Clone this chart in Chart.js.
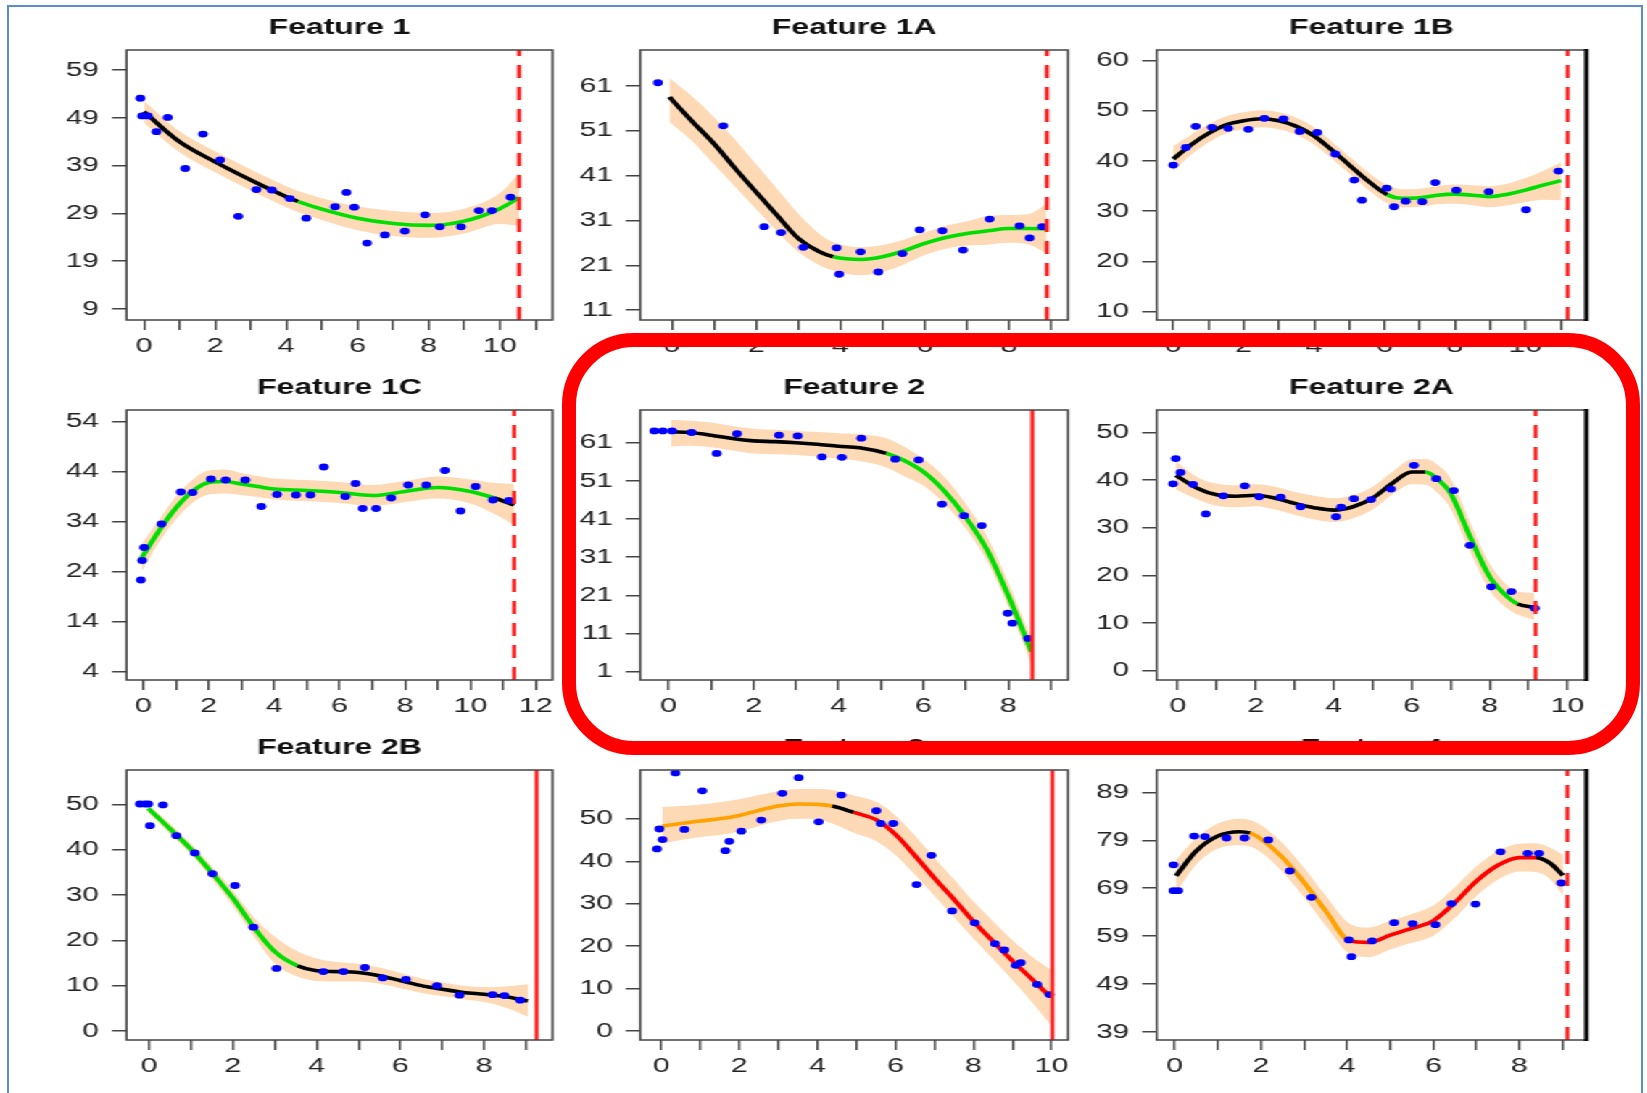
<!DOCTYPE html>
<html lang="fr">
<head>
<meta charset="utf-8">
<title>Features</title>
<script src="https://cdn.jsdelivr.net/npm/chart.js@4.4.1/dist/chart.umd.min.js"></script>
<style>
  body { margin: 0; background: #fff; }
  #page { position: relative; width: 1647px; height: 1093px; overflow: hidden; background: #fff; }
  /* la figure d'origine est etiree horizontalement */
  #etire { position: absolute; left: 0; top: 0; width: 1136px; height: 1093px; transform: scaleX(1.45); transform-origin: 0 0; }
  #etire canvas { position: absolute; }
  #cadreBleu { position: absolute; left: 7px; top: 5px; width: 1636px; height: 1120px; border: 2px solid #5b8bd1; box-sizing: border-box; }
  #surlignage { position: absolute; left: 562px; top: 333px; width: 1078px; height: 422px; border: 14px solid #ff0000; border-radius: 72px; box-sizing: border-box; pointer-events: none; }
</style>
</head>
<body>
<div id="page">
  <div id="cadreBleu"></div>
  <div id="etire"></div>
  <div id="surlignage"></div>
</div>
<script>
const ETIREMENT = 1.45;
const POLICE = "'Liberation Sans', Arial, sans-serif";
const NOIR = '#000000', VERT = '#00dd00', ORANGE = '#ffa200', ROUGE = '#ff0000';
const BANDE = '#fdd9b5';

// Feature 1
const f1X = [0, 1, 2, 3, 4, 4.33, 5, 6, 7, 8, 9, 10, 10.54];
const f1Courbe = [50.3, 44.0, 39.8, 36.0, 32.5, 31.5, 29.9, 28.0, 26.9, 26.5, 27.4, 30.0, 32.3];
const f1Bas = [48.0, 41.8, 37.6, 33.8, 30.3, 29.3, 27.6, 25.5, 24.3, 23.9, 24.8, 26.8, 26.4];
const f1Haut = [52.6, 46.2, 42.0, 38.2, 34.7, 33.7, 32.2, 30.5, 29.5, 29.1, 30.0, 33.2, 37.4];
const f1PtsX = [-0.10, -0.05, 0.11, 0.35, 0.67, 1.16, 1.66, 2.14, 2.65, 3.16, 3.59, 4.10, 4.56, 5.37, 5.69, 5.91, 6.27, 6.77, 7.33, 7.90, 8.31, 8.91, 9.41, 9.78, 10.30];
const f1PtsY = [53.1, 49.4, 49.4, 46.1, 49.1, 38.4, 45.6, 40.2, 28.4, 34.0, 33.9, 32.1, 28.0, 30.4, 33.4, 30.3, 22.8, 24.5, 25.3, 28.7, 26.2, 26.2, 29.6, 29.6, 32.4];
const f1Seuils = [4.33], f1Teintes = [NOIR, VERT];
const f1XTicks = [0, 1, 2, 3, 4, 5, 6, 7, 8, 9, 10, 11];
const f1YTicks = [9, 19, 29, 39, 49, 59];
const f1Axes = [-0.49, 11.48, 6.7, 63.2];

// Feature 1A
const f2X = [-0.06, 0.5, 1, 1.5, 2, 2.5, 3, 3.5, 3.83, 4.5, 5, 5.5, 6, 6.5, 7, 7.5, 8, 8.5, 8.89];
const f2Courbe = [58.5, 52.9, 48.1, 42.6, 37.3, 32.1, 27.0, 24.0, 22.9, 22.3, 22.9, 24.2, 25.9, 27.2, 28.1, 28.7, 29.2, 29.2, 29.1];
const f2Bas = [53.0, 48.5, 43.5, 38.5, 33.5, 28.5, 24.0, 21.0, 19.8, 18.8, 19.5, 21.2, 23.3, 24.7, 25.4, 25.6, 26.0, 25.5, 23.7];
const f2Haut = [62.7, 58.5, 54.0, 49.0, 43.5, 38.0, 32.5, 28.0, 26.2, 25.0, 25.5, 26.7, 28.3, 29.8, 30.8, 32.0, 32.2, 32.5, 34.7];
const f2PtsX = [-0.33, 1.22, 2.19, 2.59, 3.12, 3.91, 3.97, 4.48, 4.90, 5.47, 5.88, 6.42, 6.91, 7.54, 8.25, 8.49, 8.79];
const f2PtsY = [61.7, 52.1, 29.6, 28.3, 25.0, 24.9, 19.0, 24.0, 19.5, 23.6, 28.9, 28.7, 24.4, 31.3, 29.8, 27.1, 29.6];
const f2Seuils = [3.83], f2Teintes = [NOIR, VERT];
const f2XTicks = [0, 1, 2, 3, 4, 5, 6, 7, 8, 9];
const f2YTicks = [11, 21, 31, 41, 51, 61];
const f2Axes = [-0.75, 9.4, 8.8, 69.0];

// Feature 1B
const f3X = [0, 0.5, 1, 1.5, 2, 2.5, 3, 3.5, 4, 4.5, 5, 5.5, 6.08, 6.5, 7, 7.5, 8, 8.5, 9, 9.5, 10, 10.5, 11.02];
const f3Courbe = [40.4, 43.2, 45.5, 47.2, 48.0, 48.4, 48.0, 46.9, 45.0, 42.2, 39.2, 36.2, 33.3, 32.6, 32.7, 33.2, 33.4, 33.2, 32.9, 33.4, 34.2, 35.2, 36.1];
const f3Bas = [38.0, 41.2, 43.7, 45.5, 46.3, 46.7, 46.3, 45.2, 43.3, 40.5, 37.5, 34.5, 31.6, 30.8, 30.9, 31.4, 31.5, 31.2, 30.8, 31.2, 31.8, 32.3, 32.2];
const f3Haut = [43.0, 45.2, 47.3, 48.9, 49.7, 50.1, 49.7, 48.6, 46.7, 43.9, 40.9, 37.9, 35.2, 34.4, 34.5, 35.0, 35.3, 35.2, 35.0, 35.5, 36.6, 38.0, 39.8];
const f3PtsX = [0, 0.36, 0.64, 1.10, 1.56, 2.13, 2.59, 3.13, 3.59, 4.09, 4.60, 5.14, 5.36, 6.06, 6.27, 6.60, 7.07, 7.44, 8.04, 8.96, 10.02, 10.94];
const f3PtsY = [39.2, 42.7, 46.9, 46.7, 46.5, 46.3, 48.5, 48.4, 45.9, 45.7, 41.4, 36.2, 32.2, 34.6, 30.9, 32.0, 31.9, 35.7, 34.2, 33.9, 30.3, 38.0];
const f3Seuils = [6.08], f3Teintes = [NOIR, VERT];
const f3XTicks = [0, 1, 2, 3, 4, 5, 6, 7, 8, 9, 10, 11];
const f3YTicks = [10, 20, 30, 40, 50, 60];
const f3Axes = [-0.47, 11.73, 8.35, 62.1];

// Feature 1C
const f4X = [-0.05, 0.5, 1, 1.5, 2, 2.5, 3, 3.5, 4, 5, 6, 7, 8, 9, 10, 10.73, 11.34];
const f4Courbe = [26.7, 32.3, 36.7, 40.0, 41.8, 42.0, 41.5, 41.0, 40.5, 40.2, 39.8, 39.2, 40.0, 40.8, 40.0, 38.7, 37.3];
const f4Bas = [24.0, 30.0, 34.4, 37.7, 39.4, 39.6, 39.3, 38.9, 38.4, 38.1, 37.7, 37.1, 37.9, 38.6, 37.6, 35.5, 33.3];
const f4Haut = [29.5, 34.5, 39.0, 42.3, 44.2, 44.4, 43.7, 43.1, 42.6, 42.3, 41.9, 41.3, 42.1, 43.0, 42.4, 41.7, 41.5];
const f4PtsX = [-0.07, -0.03, 0.03, 0.56, 1.15, 1.51, 2.07, 2.52, 3.12, 3.61, 4.09, 4.67, 5.11, 5.52, 6.18, 6.49, 6.71, 7.12, 7.58, 8.10, 8.65, 9.22, 9.70, 10.16, 10.69, 11.18];
const f4PtsY = [22.3, 26.2, 28.8, 33.5, 39.9, 39.8, 42.5, 42.3, 42.3, 37.0, 39.4, 39.3, 39.3, 44.9, 39.0, 41.6, 36.6, 36.6, 38.7, 41.3, 41.3, 44.2, 36.1, 41.0, 38.3, 38.2];
const f4Seuils = [10.73], f4Teintes = [VERT, NOIR];
const f4XTicks = [0, 1, 2, 3, 4, 5, 6, 7, 8, 9, 10, 11, 12];
const f4YTicks = [4, 14, 24, 34, 44, 54];
const f4Axes = [-0.51, 12.51, 2.3, 56.3];

// Feature 2
const f5X = [0.06, 0.5, 1, 1.5, 2, 2.5, 3, 3.5, 4, 4.5, 5.13, 5.5, 6, 6.5, 7, 7.5, 8, 8.55];
const f5Courbe = [63.9, 63.7, 63.0, 62.1, 61.5, 61.3, 61.0, 60.6, 60.1, 59.7, 58.2, 56.6, 53.4, 48.3, 41.5, 33.0, 21.0, 6.2];
const f5Bas = [60.0, 60.2, 59.8, 59.0, 58.2, 58.0, 57.8, 57.4, 56.8, 56.2, 54.5, 52.5, 49.8, 45.0, 38.5, 30.0, 18.0, 3.0];
const f5Haut = [67.0, 66.8, 66.3, 65.4, 64.7, 64.4, 64.1, 63.8, 63.5, 63.3, 62.2, 60.3, 56.8, 52.0, 45.0, 36.5, 24.5, 9.5];
const f5PtsX = [-0.34, -0.14, 0.08, 0.54, 1.13, 1.61, 2.60, 3.04, 3.61, 4.08, 4.54, 5.34, 5.89, 6.44, 6.96, 7.38, 7.99, 8.10, 8.47];
const f5PtsY = [64.1, 64.1, 64.1, 63.7, 58.2, 63.4, 63.0, 62.8, 57.3, 57.2, 62.2, 56.7, 56.5, 44.9, 41.9, 39.3, 16.3, 13.7, 9.7];
const f5Seuils = [5.13], f5Teintes = [NOIR, VERT];
const f5XTicks = [0, 1, 2, 3, 4, 5, 6, 7, 8, 9];
const f5YTicks = [1, 11, 21, 31, 41, 51, 61];
const f5Axes = [-0.67, 9.41, -1.2, 69.6];

// Feature 2A
const f6X = [-0.05, 0.5, 1, 1.5, 2, 2.5, 3, 3.5, 4, 4.5, 5, 5.5, 6, 6.35, 6.7, 7, 7.5, 8, 8.5, 8.72, 9.14];
const f6Courbe = [41.0, 38.3, 36.9, 36.6, 36.8, 36.2, 35.1, 34.2, 33.7, 34.4, 36.2, 39.3, 41.7, 41.7, 40.0, 37.2, 28.1, 19.7, 15.2, 14.0, 13.3];
const f6Bas = [38.0, 36.0, 34.6, 34.3, 34.5, 33.8, 32.7, 31.7, 31.2, 32.0, 33.8, 36.9, 39.1, 39.0, 37.0, 34.0, 25.0, 16.9, 12.8, 11.8, 10.6];
const f6Haut = [44.0, 40.6, 39.2, 38.9, 39.1, 38.6, 37.5, 36.7, 36.2, 36.8, 38.6, 41.7, 44.3, 44.4, 43.0, 40.4, 31.2, 22.5, 17.6, 16.6, 16.3];
const f6PtsX = [-0.12, -0.05, 0.07, 0.39, 0.72, 1.17, 1.72, 2.09, 2.64, 3.15, 4.06, 4.19, 4.52, 4.96, 5.47, 6.06, 6.63, 7.08, 7.49, 8.04, 8.56, 9.16];
const f6PtsY = [39.2, 44.5, 41.6, 39.1, 32.9, 36.7, 38.8, 36.5, 36.4, 34.4, 32.3, 34.3, 36.1, 35.9, 38.1, 43.1, 40.3, 37.8, 26.3, 17.6, 16.6, 13.1];
const f6Seuils = [6.35, 8.72], f6Teintes = [NOIR, VERT, NOIR];
const f6XTicks = [0, 1, 2, 3, 4, 5, 6, 7, 8, 9, 10];
const f6YTicks = [0, 10, 20, 30, 40, 50];
const f6Axes = [-0.54, 10.48, -1.95, 54.7];

// Feature 2B
const f7X = [-0.02, 0.5, 1, 1.5, 2, 2.5, 3, 3.54, 4, 4.5, 5, 5.5, 6, 6.5, 7, 7.5, 8, 8.5, 9.04];
const f7Courbe = [49.1, 44.6, 40.1, 34.9, 29.3, 22.9, 17.5, 14.4, 13.3, 13.1, 12.9, 12.2, 11.1, 10.0, 9.2, 8.5, 8.1, 7.6, 6.6];
const f7Bas = [48.2, 43.4, 38.9, 33.5, 27.6, 20.9, 14.9, 12.0, 11.0, 10.9, 10.9, 10.4, 9.4, 8.4, 7.7, 7.0, 6.4, 5.2, 3.2];
const f7Haut = [50.0, 45.8, 41.3, 36.3, 31.0, 25.1, 20.8, 17.6, 16.0, 15.2, 14.8, 14.0, 12.8, 11.6, 10.7, 10.0, 9.7, 9.8, 10.3];
const f7PtsX = [-0.22, -0.10, -0.02, 0.02, 0.33, 0.65, 1.09, 1.51, 2.05, 2.49, 3.04, 4.16, 4.64, 5.15, 5.58, 6.13, 6.87, 7.41, 8.20, 8.48, 8.86];
const f7PtsY = [50.1, 50.1, 50.1, 45.3, 49.9, 43.1, 39.3, 34.7, 32.1, 22.9, 13.8, 13.1, 13.1, 14.0, 11.7, 11.4, 10.0, 7.9, 8.0, 7.8, 6.8];
const f7Seuils = [3.54], f7Teintes = [VERT, NOIR];
const f7XTicks = [0, 1, 2, 3, 4, 5, 6, 7, 8, 9];
const f7YTicks = [0, 10, 20, 30, 40, 50];
const f7Axes = [-0.54, 9.63, -2.0, 57.6];

// Feature 3
const f8X = [0.02, 0.5, 1, 1.5, 2, 2.5, 3, 3.5, 4, 4.38, 4.93, 5.5, 6, 6.5, 7, 7.5, 8, 8.5, 9, 9.5, 9.97];
const f8Courbe = [48.3, 48.9, 49.5, 50.0, 50.8, 52.0, 53.0, 53.5, 53.4, 53.0, 51.5, 49.8, 46.3, 41.3, 36.0, 31.0, 25.8, 21.1, 16.5, 12.2, 8.0];
const f8Bas = [44.2, 45.0, 45.7, 46.2, 47.0, 48.3, 49.5, 50.0, 49.8, 48.9, 46.7, 44.8, 41.5, 36.8, 31.8, 26.8, 21.8, 16.9, 12.0, 6.8, 1.5];
const f8Haut = [52.8, 53.0, 53.4, 53.9, 54.6, 55.6, 56.5, 57.0, 57.0, 56.8, 55.5, 54.0, 50.8, 46.0, 40.8, 35.7, 30.5, 25.9, 21.4, 17.5, 14.5];
const f8PtsX = [-0.11, -0.05, 0.03, 0.36, 0.59, 1.05, 1.64, 1.74, 2.05, 2.56, 3.10, 3.52, 4.03, 4.61, 5.51, 5.62, 5.94, 6.54, 6.92, 7.45, 8.03, 8.55, 8.79, 9.08, 9.21, 9.63, 9.95];
const f8PtsY = [42.9, 47.6, 45.1, 60.8, 47.5, 56.6, 42.5, 44.7, 47.1, 49.7, 56.0, 59.7, 49.3, 55.6, 51.9, 48.9, 48.9, 34.5, 41.4, 28.3, 25.5, 20.6, 19.1, 15.5, 16.1, 11.0, 8.6];
const f8Seuils = [4.38, 4.93], f8Teintes = [ORANGE, NOIR, ROUGE];
const f8XTicks = [0, 1, 2, 3, 4, 5, 6, 7, 8, 9, 10];
const f8YTicks = [0, 10, 20, 30, 40, 50];
const f8Axes = [-0.54, 10.42, -2.1, 61.5];

// Feature 4
const f9X = [0.03, 0.5, 1, 1.5, 1.75, 2, 2.5, 3, 3.5, 4.06, 4.5, 5, 5.5, 6, 6.5, 7, 7.5, 8, 8.38, 8.7, 9.01];
const f9Courbe = [71.6, 76.8, 79.9, 80.8, 80.5, 79.3, 75.4, 70.2, 64.3, 58.0, 57.7, 59.2, 60.6, 62.2, 66.0, 70.5, 73.8, 75.4, 75.4, 74.3, 71.7];
const f9Bas = [68.0, 74.0, 77.3, 78.0, 77.7, 76.5, 72.4, 67.1, 61.2, 55.3, 54.6, 56.2, 57.6, 59.1, 62.8, 67.4, 70.8, 72.5, 72.4, 71.0, 67.5];
const f9Haut = [75.0, 79.5, 82.5, 83.5, 83.2, 82.2, 78.4, 73.3, 67.5, 61.6, 60.8, 62.2, 63.6, 65.4, 69.2, 73.6, 76.8, 78.3, 78.4, 77.5, 76.0];
const f9PtsX = [-0.03, -0.03, 0.08, 0.45, 0.70, 1.20, 1.62, 2.17, 2.67, 3.17, 4.04, 4.10, 4.58, 5.09, 5.52, 6.05, 6.42, 6.98, 7.56, 8.19, 8.45, 8.97];
const f9PtsY = [73.9, 68.5, 68.5, 79.9, 79.8, 79.5, 79.5, 79.1, 72.6, 67.1, 58.2, 54.7, 58.0, 61.8, 61.6, 61.4, 65.8, 65.7, 76.6, 76.3, 76.3, 70.1];
const f9Seuils = [1.75, 4.06, 8.38], f9Teintes = [NOIR, ORANGE, ROUGE, NOIR];
const f9XTicks = [0, 1, 2, 3, 4, 5, 6, 7, 8, 9];
const f9YTicks = [39, 49, 59, 69, 79, 89];
const f9Axes = [-0.42, 9.55, 37.3, 93.7];

// position verticale de la limite (rouge) de chaque panneau
const limites = [10.54, 8.9, 11.2, 11.34, 8.57, 9.18, 9.25, 10.02, 9.11];
const pointilles = [true, true, true, true, false, true, false, false, true];
const titres = ['Feature 1', 'Feature 1A', 'Feature 1B', 'Feature 1C', 'Feature 2', 'Feature 2A', 'Feature 2B', 'Feature 3', 'Feature 4'];

// zone de tracé de chaque panneau, en pixels de la page : gauche, haut, droite, bas
const cadres = [
  [126.5, 50, 552.5, 320], [640.3, 50, 1068, 320], [1156.7, 50, 1586.3, 320],
  [126.5, 410, 552.5, 680], [640.3, 410, 1068, 680], [1156.7, 410, 1586.3, 680],
  [126.5, 769.5, 552.5, 1039], [640.3, 769.5, 1068, 1039], [1156.7, 769.5, 1586.3, 1039]
];

const panneaux = [
  [f1X, f1Courbe, f1Bas, f1Haut, f1PtsX, f1PtsY, f1Seuils, f1Teintes, f1XTicks, f1YTicks, f1Axes],
  [f2X, f2Courbe, f2Bas, f2Haut, f2PtsX, f2PtsY, f2Seuils, f2Teintes, f2XTicks, f2YTicks, f2Axes],
  [f3X, f3Courbe, f3Bas, f3Haut, f3PtsX, f3PtsY, f3Seuils, f3Teintes, f3XTicks, f3YTicks, f3Axes],
  [f4X, f4Courbe, f4Bas, f4Haut, f4PtsX, f4PtsY, f4Seuils, f4Teintes, f4XTicks, f4YTicks, f4Axes],
  [f5X, f5Courbe, f5Bas, f5Haut, f5PtsX, f5PtsY, f5Seuils, f5Teintes, f5XTicks, f5YTicks, f5Axes],
  [f6X, f6Courbe, f6Bas, f6Haut, f6PtsX, f6PtsY, f6Seuils, f6Teintes, f6XTicks, f6YTicks, f6Axes],
  [f7X, f7Courbe, f7Bas, f7Haut, f7PtsX, f7PtsY, f7Seuils, f7Teintes, f7XTicks, f7YTicks, f7Axes],
  [f8X, f8Courbe, f8Bas, f8Haut, f8PtsX, f8PtsY, f8Seuils, f8Teintes, f8XTicks, f8YTicks, f8Axes],
  [f9X, f9Courbe, f9Bas, f9Haut, f9PtsX, f9PtsY, f9Seuils, f9Teintes, f9XTicks, f9YTicks, f9Axes]
];

// cadre gris autour de la zone de tracé, bord droit épais sur la 3e colonne
const cadrePlugin = {
  id: 'cadre',
  afterDatasetsDraw(chart, args, opts) {
    const { ctx, chartArea: a } = chart;
    ctx.save();
    ctx.strokeStyle = '#444';
    ctx.lineWidth = 1.5;
    ctx.strokeRect(a.left, a.top, a.right - a.left, a.bottom - a.top);
    if (opts.epais) {
      ctx.strokeStyle = '#000';
      ctx.lineWidth = 3;
      ctx.beginPath();
      ctx.moveTo(a.right, a.top - 1);
      ctx.lineTo(a.right, a.bottom + 1);
      ctx.stroke();
    }
    ctx.restore();
  }
};

function teinte(seuils, teintes, x) {
  let i = 0;
  while (i < seuils.length && x >= seuils[i] - 1e-6) i++;
  return teintes[i];
}

function paires(xs, ys) {
  return xs.map((v, i) => ({ x: v, y: ys[i] }));
}

function dessinerPanneau(n) {
  const [xs, courbe, bas, haut, ptsX, ptsY, seuils, teintes, xTicks, yTicks, axes] = panneaux[n];
  const [gauche, sommet, droite, fond] = cadres[n];
  const margeG = 115, margeD = 12, margeH = 42, margeB = 45;

  const left = Math.floor((gauche - margeG) / ETIREMENT);
  const largeurAxeY = gauche / ETIREMENT - left;
  const largeurTrace = (droite - gauche) / ETIREMENT;
  const largeur = Math.ceil(largeurAxeY + largeurTrace + margeD / ETIREMENT);
  const hauteur = Math.round(fond - sommet) + margeH + margeB;

  const canvas = document.createElement('canvas');
  canvas.width = largeur;
  canvas.height = hauteur;
  canvas.style.left = left + 'px';
  canvas.style.top = (sommet - margeH) + 'px';
  document.getElementById('etire').appendChild(canvas);

  const [xMin, xMax, yMin, yMax] = axes;

  new Chart(canvas, {
    type: 'line',
    data: {
      datasets: [
        {
          data: paires(xs, bas), borderWidth: 0, borderColor: 'rgba(0,0,0,0)',
          pointRadius: 0, fill: false, cubicInterpolationMode: 'monotone', order: 5
        },
        {
          data: paires(xs, haut), borderWidth: 0, borderColor: 'rgba(0,0,0,0)',
          pointRadius: 0, fill: 0, backgroundColor: BANDE, cubicInterpolationMode: 'monotone', order: 4
        },
        {
          data: paires(xs, courbe), borderWidth: 3.6, borderColor: teintes[0],
          pointRadius: 0, fill: false, cubicInterpolationMode: 'monotone', order: 3,
          segment: { borderColor: ctx => teinte(seuils, teintes, ctx.p0.parsed.x) }
        },
        {
          data: paires(ptsX, ptsY), showLine: false, pointRadius: 3.4,
          pointBackgroundColor: '#0000ff', pointBorderWidth: 0, order: 2
        },
        {
          data: [{ x: limites[n], y: yMin }, { x: limites[n], y: yMax }],
          borderColor: '#ff2020', borderWidth: 2.8, borderDash: pointilles[n] ? [13, 9] : [],
          pointRadius: 0, fill: false, order: 1
        }
      ]
    },
    options: {
      responsive: false,
      animation: false,
      devicePixelRatio: 1,
      layout: { padding: { left: 0, top: 0, bottom: 0, right: largeur - largeurAxeY - largeurTrace } },
      plugins: {
        legend: { display: false },
        tooltip: { enabled: false },
        title: {
          display: true, text: titres[n], fullSize: false, color: '#111',
          font: { family: POLICE, size: 22, weight: 'bold', lineHeight: 1.2 },
          padding: { top: 6.8, bottom: 8.8 }
        },
        cadre: { epais: n % 3 === 2 }
      },
      scales: {
        x: {
          type: 'linear', min: xMin, max: xMax,
          afterBuildTicks: s => { s.ticks = xTicks.map(v => ({ value: v })); },
          afterFit: s => { s.height = margeB; },
          ticks: {
            autoSkip: false, maxRotation: 0, padding: 4, color: '#222',
            font: { family: POLICE, size: 21 },
            callback: v => (v % 2 === 0 ? String(v) : '')
          },
          grid: { drawOnChartArea: false, drawTicks: true, tickLength: 10, color: '#444', lineWidth: 1.5 },
          border: { display: false }
        },
        y: {
          type: 'linear', min: yMin, max: yMax,
          afterBuildTicks: s => { s.ticks = yTicks.map(v => ({ value: v })); },
          afterFit: s => { s.width = largeurAxeY; },
          ticks: { padding: 9, color: '#222', font: { family: POLICE, size: 20.5 } },
          grid: { drawOnChartArea: false, drawTicks: true, tickLength: 10, color: '#444', lineWidth: 1.5 },
          border: { display: false }
        }
      }
    },
    plugins: [cadrePlugin]
  });
}

for (let n = 0; n < panneaux.length; n++) {
  dessinerPanneau(n);
}
</script>
</body>
</html>
